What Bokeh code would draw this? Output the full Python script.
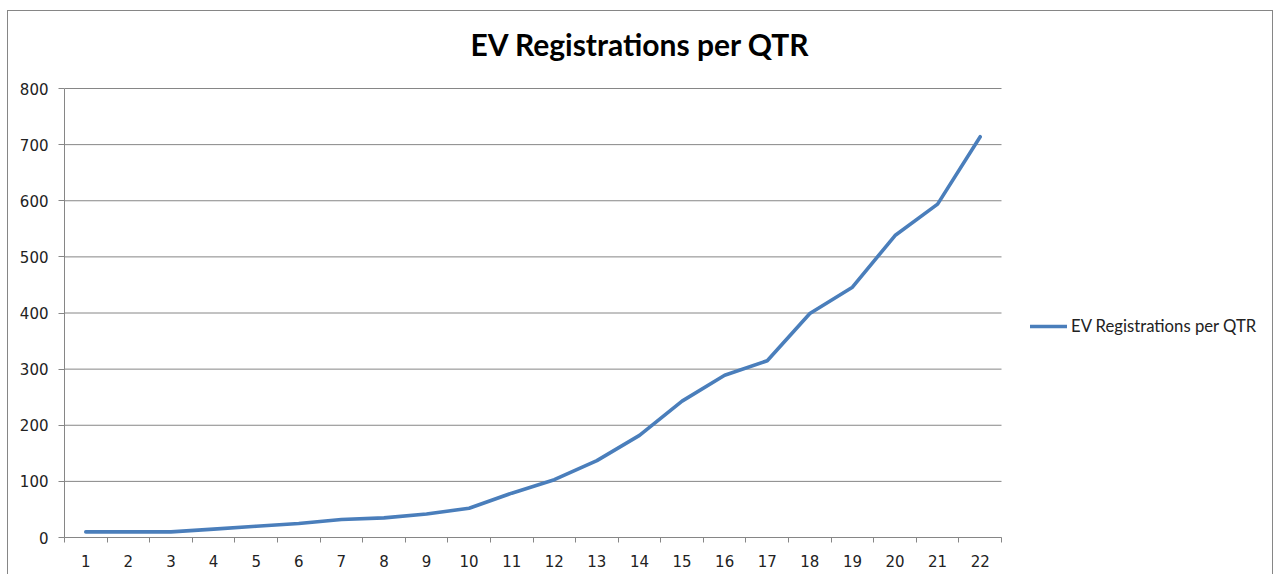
from bokeh.plotting import figure
from bokeh.models import (FixedTicker, Legend, LegendItem, Label, ColumnDataSource, Range1d)
from bokeh.embed import file_html
from bokeh.resources import INLINE

quarters = list(range(1, 23))
registrations = [10, 10, 10, 15, 20, 25, 32, 35, 42, 52, 79, 103, 137, 182, 243, 289, 315, 399, 446, 538, 594, 714]
y_ticks = [0, 100, 200, 300, 400, 500, 600, 700, 800]
series_name = "EV Registrations per QTR"
title_text = "EV Registrations per QTR"

GRID = "#868686"
BLUE = "#4A7EBB"

# layout (pixels, inside the figure)
W, H = 1266, 564
LEFT, BOTTOM = 56, 38
PLOT_TOP = 77                      # pixel row of the 800 gridline
PLOT_PX = 937                      # width taken by the 22 categories
FRAME_W = W - LEFT                 # frame runs to the right and top edges
FRAME_H = H - BOTTOM
TITLE_CX, TITLE_BASE = 632, 32     # title centre / anchor row in pixels

x_start = quarters[0] - 0.5
x_cat_end = quarters[-1] + 0.5
px_x = PLOT_PX / (x_cat_end - x_start)
x_end = x_start + FRAME_W / px_x
y_top = y_ticks[-1]
px_y = (FRAME_H - PLOT_TOP) / y_top
y_end = FRAME_H / px_y

src = ColumnDataSource(data=dict(q=quarters, v=registrations))
grid_src = ColumnDataSource(data=dict(y=y_ticks, x0=[x_start] * len(y_ticks), x1=[x_cat_end] * len(y_ticks)))

p = figure(width=W, height=H, output_backend="svg", toolbar_location=None,
           x_range=Range1d(x_start, x_end), y_range=Range1d(0, y_end),
           min_border_left=LEFT, min_border_top=0, min_border_right=0, min_border_bottom=BOTTOM)
p.styles = {"margin-left": "7px", "margin-top": "10px",
            "border-left": "1px solid #868686", "border-top": "1px solid #868686",
            "border-right": "1px solid #868686"}
p.outline_line_color = None
p.background_fill_color = "white"
p.border_fill_color = "white"

# horizontal gridlines limited to the category area
p.segment(x0="x0", x1="x1", y0="y", y1="y", source=grid_src, line_color=GRID, line_width=1)

r = p.line("q", "v", source=src, line_color=BLUE, line_width=3.6, line_join="round", line_cap="round")

# x axis: labels at centres, tick marks at category boundaries (minor ticks)
xa = p.xaxis[0]
xa.bounds = (x_start, x_cat_end)
xa.ticker = FixedTicker(ticks=quarters, minor_ticks=[q - 0.5 for q in quarters] + [x_cat_end])
xa.major_tick_out = 0
xa.major_tick_in = 0
xa.minor_tick_out = 5
xa.minor_tick_in = 0
xa.minor_tick_line_color = GRID
xa.axis_line_color = GRID
xa.major_label_standoff = 12
xa.major_label_text_font = "DejaVu Sans"
xa.major_label_text_font_size = "15px"
xa.major_label_text_color = "#222222"

ya = p.yaxis[0]
ya.bounds = (0, y_top)
ya.ticker = FixedTicker(ticks=y_ticks)
ya.minor_tick_line_color = None
ya.major_tick_out = 6
ya.major_tick_in = 0
ya.major_tick_line_color = GRID
ya.axis_line_color = GRID
ya.major_label_standoff = 10
ya.major_label_text_font = "DejaVu Sans"
ya.major_label_text_font_size = "15px"
ya.major_label_text_color = "#222222"

p.xgrid.grid_line_color = None
p.ygrid.grid_line_color = None

title = Label(x=x_start + (TITLE_CX - LEFT) / px_x, y=(FRAME_H - TITLE_BASE) / px_y,
              text=title_text, text_align="center", text_baseline="alphabetic",
              text_font="Lato", text_font_size="30px", text_font_style="bold", text_color="black")
p.add_layout(title)

legend = Legend(items=[LegendItem(label=series_name, renderers=[r])],
                location=(966, 201), border_line_color=None, background_fill_alpha=0,
                margin=0, padding=0, glyph_width=37, glyph_height=20, label_standoff=4,
                label_text_font="Lato", label_text_font_size="16.7px", label_text_color="#222222")
p.add_layout(legend)

open("out.html", "w").write(file_html(p, INLINE))
